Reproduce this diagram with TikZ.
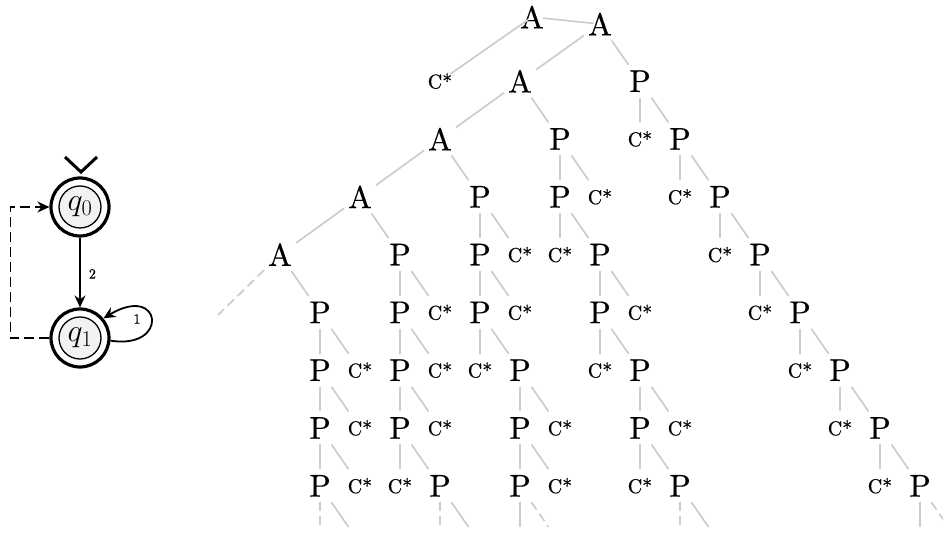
\documentclass[tikz,border=0pt]{standalone}
\usepackage{fix-cm}
\usepackage{fontspec}
\setmainfont{lmroman10-regular.otf}
\newfontfamily\treefont{lmroman10-regular.otf}[FakeBold=0.6]
\usetikzlibrary{arrows.meta}
\begin{document}
\begin{tikzpicture}[x=1pt,y=-1pt,
  tn/.style={font=\treefont\fontsize{31.5}{36}\selectfont, minimum height=33pt, minimum width=32pt, inner sep=0pt, outer sep=0pt},
  cs/.style={tn, font=\treefont\fontsize{20}{24}\selectfont},
  tl/.style={draw=black!20, line width=1.7pt},
  dl/.style={tl, dash pattern=on 9pt off 5pt},
  ar/.style={draw=black, line width=1.8pt, -{Stealth[length=12pt,width=11pt,inset=4pt]}},
  lab/.style={font=\treefont\fontsize{14}{16}\selectfont, inner sep=0pt},
  outerst/.style={circle, draw, line width=3.2pt, minimum size=58pt, inner sep=0pt},
  innerst/.style={circle, draw, line width=1.3pt, fill=black!5, minimum size=42pt, inner sep=0pt, font=\fontsize{32}{36}\selectfont}]
\useasboundingbox (0,0) rectangle (943,534);
\clip (0,0) rectangle (943,534);

% ---------- automaton ----------
\node[outerst] (q0) at (80,207) {};
\node[innerst] (q0in) at (q0) {$q_0$};
\node[outerst] (q1) at (80,338) {};
\node[innerst] (q1in) at (q1) {$q_1$};
\draw[line width=3pt] (65,157) -- (81,172) -- (97,157);
\draw[ar] (q0) -- (q1) node[lab, pos=0.52, right=8pt] (l2) {2};
\draw[ar] (q1.-5) .. controls (170,350) and (162,283) .. (q1.40);
\node[lab] (l1) at (137,319) {1};
\draw[ar, dash pattern=on 10pt off 5pt] (q1.west) -- ++(-39,0) |- (q0.west);

% ---------- tree nodes ----------
\node[tn] (rA) at (532,17) {A};
\node[tn] (r0c15) at (600,24) {A};
% row 1
\node[cs] (r1c11) at (440,81.2) {C*};
\node[tn] (r1c13) at (520,81.2) {A};
\node[tn] (r1c16) at (640,81.2) {P};
% row 2
\node[tn] (r2c11) at (440,139) {A};
\node[tn] (r2c14) at (560,139) {P};
\node[cs] (r2c16) at (640,139) {C*};
\node[tn] (r2c17) at (680,139) {P};
% row 3
\node[tn] (r3c9) at (360,196.8) {A};
\node[tn] (r3c12) at (480,196.8) {P};
\node[tn] (r3c14) at (560,196.8) {P};
\node[cs] (r3c15) at (600,196.8) {C*};
\node[cs] (r3c17) at (680,196.8) {C*};
\node[tn] (r3c18) at (720,196.8) {P};
% row 4
\node[tn] (r4c7) at (280,254.6) {A};
\node[tn] (r4c10) at (400,254.6) {P};
\node[tn] (r4c12) at (480,254.6) {P};
\node[cs] (r4c13) at (520,254.6) {C*};
\node[cs] (r4c14) at (560,254.6) {C*};
\node[tn] (r4c15) at (600,254.6) {P};
\node[cs] (r4c18) at (720,254.6) {C*};
\node[tn] (r4c19) at (760,254.6) {P};
% row 5
\node[tn] (r5c8) at (320,312.4) {P};
\node[tn] (r5c10) at (400,312.4) {P};
\node[cs] (r5c11) at (440,312.4) {C*};
\node[tn] (r5c12) at (480,312.4) {P};
\node[cs] (r5c13) at (520,312.4) {C*};
\node[tn] (r5c15) at (600,312.4) {P};
\node[cs] (r5c16) at (640,312.4) {C*};
\node[cs] (r5c19) at (760,312.4) {C*};
\node[tn] (r5c20) at (800,312.4) {P};
% row 6
\node[tn] (r6c8) at (320,370.2) {P};
\node[cs] (r6c9) at (360,370.2) {C*};
\node[tn] (r6c10) at (400,370.2) {P};
\node[cs] (r6c11) at (440,370.2) {C*};
\node[cs] (r6c12) at (480,370.2) {C*};
\node[tn] (r6c13) at (520,370.2) {P};
\node[cs] (r6c15) at (600,370.2) {C*};
\node[tn] (r6c16) at (640,370.2) {P};
\node[cs] (r6c20) at (800,370.2) {C*};
\node[tn] (r6c21) at (840,370.2) {P};
% row 7
\node[tn] (r7c8) at (320,428) {P};
\node[cs] (r7c9) at (360,428) {C*};
\node[tn] (r7c10) at (400,428) {P};
\node[cs] (r7c11) at (440,428) {C*};
\node[tn] (r7c13) at (520,428) {P};
\node[cs] (r7c14) at (560,428) {C*};
\node[tn] (r7c16) at (640,428) {P};
\node[cs] (r7c17) at (680,428) {C*};
\node[cs] (r7c21) at (840,428) {C*};
\node[tn] (r7c22) at (880,428) {P};
% row 8
\node[tn] (r8c8) at (320,485.8) {P};
\node[cs] (r8c9) at (360,485.8) {C*};
\node[cs] (r8c10) at (400,485.8) {C*};
\node[tn] (r8c11) at (440,485.8) {P};
\node[tn] (r8c13) at (520,485.8) {P};
\node[cs] (r8c14) at (560,485.8) {C*};
\node[cs] (r8c16) at (640,485.8) {C*};
\node[tn] (r8c17) at (680,485.8) {P};
\node[cs] (r8c22) at (880,485.8) {C*};
\node[tn] (r8c23) at (920,485.8) {P};

% free ends
\coordinate (eA) at (218,315);
\coordinate (e8v) at (320,527);   \coordinate (e8d) at (348.5,527);
\coordinate (e11v) at (440,527);  \coordinate (e11d) at (468.5,527);
\coordinate (e13v) at (520,527);  \coordinate (e13d) at (548.5,527);
\coordinate (e17v) at (680,527);  \coordinate (e17d) at (708.5,527);
\coordinate (e23v) at (920,527);  \coordinate (e23d) at (948.5,527);

% ---------- tree edges ----------
\draw[tl, shorten <=13pt, shorten >=5pt] (r1c11.center) -- (rA.center);
\draw[tl, shorten <=11pt, shorten >=6.5pt] (rA.center) -- (r0c15.center);
\draw[tl] (r0c15) -- (r1c13);  \draw[tl] (r0c15) -- (r1c16);
\draw[tl] (r1c13) -- (r2c11);  \draw[tl] (r1c13) -- (r2c14);
\draw[tl] (r1c16) -- (r2c16);  \draw[tl] (r1c16) -- (r2c17);
\draw[tl] (r2c11) -- (r3c9);   \draw[tl] (r2c11) -- (r3c12);
\draw[tl] (r2c14) -- (r3c14);  \draw[tl] (r2c14) -- (r3c15);
\draw[tl] (r2c17) -- (r3c17);  \draw[tl] (r2c17) -- (r3c18);
\draw[tl] (r3c9) -- (r4c7);    \draw[tl] (r3c9) -- (r4c10);
\draw[tl] (r3c12) -- (r4c12);  \draw[tl] (r3c12) -- (r4c13);
\draw[tl] (r3c14) -- (r4c14);  \draw[tl] (r3c14) -- (r4c15);
\draw[tl] (r3c18) -- (r4c18);  \draw[tl] (r3c18) -- (r4c19);
\draw[dl] (r4c7) -- (eA);      \draw[tl] (r4c7) -- (r5c8);
\draw[tl] (r4c10) -- (r5c10);  \draw[tl] (r4c10) -- (r5c11);
\draw[tl] (r4c12) -- (r5c12);  \draw[tl] (r4c12) -- (r5c13);
\draw[tl] (r4c15) -- (r5c15);  \draw[tl] (r4c15) -- (r5c16);
\draw[tl] (r4c19) -- (r5c19);  \draw[tl] (r4c19) -- (r5c20);
\draw[tl] (r5c8) -- (r6c8);    \draw[tl] (r5c8) -- (r6c9);
\draw[tl] (r5c10) -- (r6c10);  \draw[tl] (r5c10) -- (r6c11);
\draw[tl] (r5c12) -- (r6c12);  \draw[tl] (r5c12) -- (r6c13);
\draw[tl] (r5c15) -- (r6c15);  \draw[tl] (r5c15) -- (r6c16);
\draw[tl] (r5c20) -- (r6c20);  \draw[tl] (r5c20) -- (r6c21);
\draw[tl] (r6c8) -- (r7c8);    \draw[tl] (r6c8) -- (r7c9);
\draw[tl] (r6c10) -- (r7c10);  \draw[tl] (r6c10) -- (r7c11);
\draw[tl] (r6c13) -- (r7c13);  \draw[tl] (r6c13) -- (r7c14);
\draw[tl] (r6c16) -- (r7c16);  \draw[tl] (r6c16) -- (r7c17);
\draw[tl] (r6c21) -- (r7c21);  \draw[tl] (r6c21) -- (r7c22);
\draw[tl] (r7c8) -- (r8c8);    \draw[tl] (r7c8) -- (r8c9);
\draw[tl] (r7c10) -- (r8c10);  \draw[tl] (r7c10) -- (r8c11);
\draw[tl] (r7c13) -- (r8c13);  \draw[tl] (r7c13) -- (r8c14);
\draw[tl] (r7c16) -- (r8c16);  \draw[tl] (r7c16) -- (r8c17);
\draw[tl] (r7c22) -- (r8c22);  \draw[tl] (r7c22) -- (r8c23);
\draw[dl] (r8c8) -- (e8v);     \draw[tl] (r8c8) -- (e8d);
\draw[dl] (r8c11) -- (e11v);   \draw[tl] (r8c11) -- (e11d);
\draw[tl] (r8c13) -- (e13v);   \draw[dl] (r8c13) -- (e13d);
\draw[dl] (r8c17) -- (e17v);   \draw[tl] (r8c17) -- (e17d);
\draw[tl] (r8c23) -- (e23v);   \draw[dl] (r8c23) -- (e23d);
\end{tikzpicture}
\end{document}
